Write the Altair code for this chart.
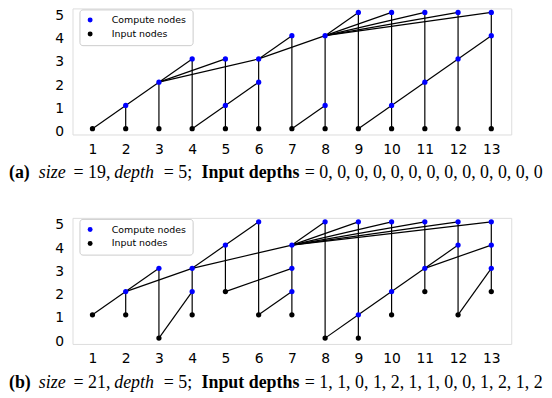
import altair as alt
import pandas as pd

# ---------------- data ----------------
x_ticks = [1, 2, 3, 4, 5, 6, 7, 8, 9, 10, 11, 12, 13]
y_ticks = [0, 1, 2, 3, 4, 5]

input_depths_a = [0, 0, 0, 0, 0, 0, 0, 0, 0, 0, 0, 0, 0]
compute_a = [(2, 1), (3, 2), (4, 3), (5, 1), (5, 3), (6, 2), (6, 3), (7, 4), (8, 1), (8, 4),
             (9, 5), (10, 1), (10, 5), (11, 2), (11, 5), (12, 3), (12, 5), (13, 4), (13, 5)]
edges_a = [((1, 0), (2, 1)), ((2, 1), (3, 2)), ((2, 0), (2, 1)), ((3, 0), (3, 2)),
           ((3, 2), (4, 3)), ((3, 2), (5, 3)), ((3, 2), (6, 3)),
           ((4, 0), (4, 3)), ((4, 0), (5, 1)), ((5, 1), (6, 2)),
           ((5, 0), (5, 3)), ((6, 0), (6, 3)),
           ((6, 3), (7, 4)), ((6, 3), (8, 4)),
           ((7, 0), (7, 4)), ((7, 0), (8, 1)), ((8, 0), (8, 4)),
           ((8, 4), (9, 5)), ((8, 4), (10, 5)), ((8, 4), (11, 5)), ((8, 4), (12, 5)), ((8, 4), (13, 5)),
           ((9, 0), (9, 5)), ((9, 0), (10, 1)), ((10, 1), (11, 2)), ((11, 2), (12, 3)), ((12, 3), (13, 4)),
           ((10, 0), (10, 5)), ((11, 0), (11, 5)), ((12, 0), (12, 5)), ((13, 0), (13, 5))]

input_depths_b = [1, 1, 0, 1, 2, 1, 1, 0, 0, 1, 2, 1, 2]
compute_b = [(2, 2), (3, 3), (4, 2), (4, 3), (5, 4), (6, 5), (7, 2), (7, 3), (7, 4), (8, 5),
             (9, 1), (9, 5), (10, 2), (10, 5), (11, 3), (11, 5), (12, 4), (12, 5), (13, 3), (13, 4), (13, 5)]
edges_b = [((1, 1), (2, 2)), ((2, 1), (2, 2)), ((2, 2), (3, 3)), ((2, 2), (4, 3)),
           ((3, 0), (3, 3)), ((3, 0), (4, 2)), ((4, 1), (4, 3)),
           ((4, 3), (5, 4)), ((5, 4), (6, 5)), ((4, 3), (7, 4)),
           ((5, 2), (5, 4)), ((5, 2), (7, 3)),
           ((6, 1), (6, 5)), ((6, 1), (7, 2)),
           ((7, 1), (7, 4)),
           ((7, 4), (8, 5)), ((7, 4), (9, 5)), ((7, 4), (10, 5)), ((7, 4), (11, 5)), ((7, 4), (12, 5)), ((7, 4), (13, 5)),
           ((8, 0), (8, 5)), ((8, 0), (9, 1)), ((9, 1), (10, 2)), ((10, 2), (11, 3)),
           ((9, 0), (9, 5)), ((10, 1), (10, 5)), ((11, 2), (11, 5)),
           ((11, 3), (12, 4)), ((11, 3), (13, 4)),
           ((12, 1), (12, 5)), ((12, 1), (13, 3)), ((13, 2), (13, 5))]

kinds = ["Compute nodes", "Input nodes"]
kind_colors = ["#0000ff", "#000000"]

# ---------------- helpers ----------------
W, H = 442, 127
xscale = alt.Scale(domain=[0.4, 13.6], nice=False, zero=False)
yscale = alt.Scale(domain=[-0.25, 5.17], nice=False, zero=False)
xaxis = alt.Axis(values=x_ticks, title=None, domain=False, ticks=False, grid=False,
                 labelFontSize=14, labelFont="DejaVu Sans", labelColor="black",
                 labelPadding=8, labelFlush=False)
yaxis = alt.Axis(values=y_ticks, title=None, domain=False, ticks=False, grid=False,
                 labelFontSize=14, labelFont="DejaVu Sans", labelColor="black",
                 labelPadding=9, labelOffset=3, labelFlush=False)


def nodes_frame(inputs, computes):
    rows = [{"x": i + 1, "d": d, "kind": "Input nodes"} for i, d in enumerate(inputs)]
    rows += [{"x": x, "d": d, "kind": "Compute nodes"} for x, d in computes]
    return pd.DataFrame(rows)


def edges_frame(edges):
    return pd.DataFrame([{"x": a[0], "y": a[1], "x2": b[0], "y2": b[1]} for a, b in edges])


def text_piece(txt, xpos, ypos, weight="normal", style="normal"):
    return alt.Chart(pd.DataFrame({"t": [txt]})).mark_text(
        align="left", baseline="middle", font="Liberation Serif", fontSize=18,
        fontWeight=weight, fontStyle=style, color="black"
    ).encode(text="t:N", x=alt.value(xpos), y=alt.value(ypos))


def panel(tag, size, inputs, computes, edges):
    lines = alt.Chart(edges_frame(edges)).mark_rule(color="black", strokeWidth=1.2).encode(
        x=alt.X("x:Q", scale=xscale, axis=xaxis),
        y=alt.Y("y:Q", scale=yscale, axis=yaxis),
        x2="x2:Q", y2="y2:Q")
    pts = alt.Chart(nodes_frame(inputs, computes)).mark_circle(size=28, opacity=1).encode(
        x=alt.X("x:Q", scale=xscale, axis=xaxis),
        y=alt.Y("d:Q", scale=yscale, axis=yaxis),
        color=alt.Color("kind:N", scale=alt.Scale(domain=kinds, range=kind_colors),
                        legend=alt.Legend(title=None, orient="none", legendX=7, legendY=1,
                                          labelFont="DejaVu Sans", labelFontSize=9.5,
                                          labelColor="black", symbolType="circle",
                                          symbolSize=25, labelOffset=17, padding=6,
                                          rowPadding=3, strokeColor="#cccccc",
                                          fillColor="white", cornerRadius=3)))
    cy = 166
    depth_str = "= " + ", ".join(str(d) for d in inputs)
    texts = [
        text_piece(tag, -64, cy, weight="bold"),
        text_piece("size", -34, cy, style="italic"),
        text_piece("= " + str(size) + ",", 1, cy),
        text_piece("depth", 42, cy, style="italic"),
        text_piece("= 5;", 92, cy),
        text_piece("Input depths", 130, cy, weight="bold"),
        text_piece(depth_str, 234, cy),
    ]
    return alt.layer(lines, pts, *texts).properties(width=W, height=H)


pa = panel("(a)", 19, input_depths_a, compute_a, edges_a)
pb = panel("(b)", 21, input_depths_b, compute_b, edges_b)

chart = alt.vconcat(pa, pb, spacing=34).resolve_scale(color="independent").resolve_legend(
    color="independent"
).configure_view(strokeWidth=0).configure(
    padding={"top": -2, "left": 0, "right": 0, "bottom": 0}, background="white")

chart.save("out.html", embed_options={"renderer": "svg", "actions": False})
